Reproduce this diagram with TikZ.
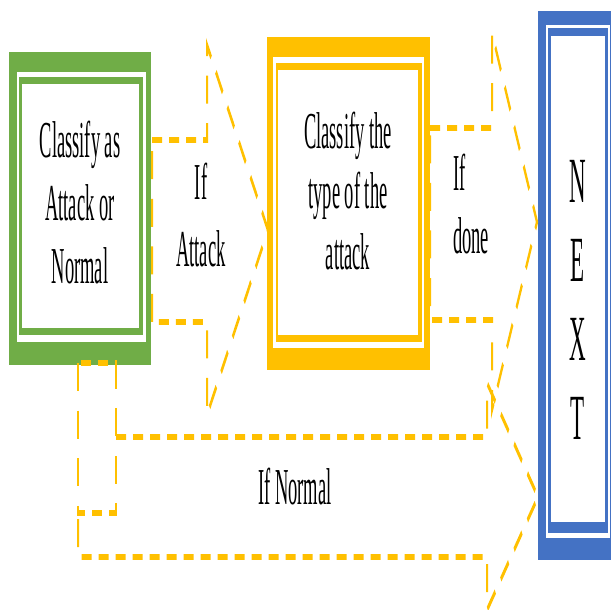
\documentclass[tikz,border=0pt]{standalone}
\usepackage{fontspec}
\setmainfont{Liberation Serif}
\definecolor{gc}{HTML}{70AD47}
\definecolor{oc}{HTML}{FFC000}
\definecolor{bc}{HTML}{4472C4}
\definecolor{arrowc}{HTML}{FFC000}
\tikzset{
  flow/.style={draw=arrowc, line width=2pt, dash pattern=on 10pt off 7pt, line join=miter},
  lbl/.style={font=\fontsize{18.5}{22.5}\selectfont, inner sep=0pt, align=center, text=black},
}
\begin{document}
\begin{tikzpicture}[x=1pt, y=-1pt]
\useasboundingbox (0,0) rectangle (611,610);
\clip (0,0) rectangle (611,610);
% everything is drawn in a vertically stretched canvas
\begin{scope}[transform canvas={yscale=2.8}, y=-0.357143pt]
  % green frame
  \fill[gc] (9,52) rectangle (151,365);
  \fill[white] (17,72) rectangle (146,342);
  \fill[gc] (19,77) rectangle (143,335);
  \fill[white] (22,84) rectangle (139,328);
  % orange frame
  \fill[oc] (267,37) rectangle (430,370);
  \fill[white] (273,57) rectangle (424,348);
  \fill[oc] (276,63) rectangle (422,342);
  \fill[white] (278,70) rectangle (418,335);
  % blue frame
  \fill[bc] (538,11) rectangle (618,560);
  \fill[white] (546,25) rectangle (610,538);
  \fill[bc] (548,28) rectangle (608,533);
  \fill[white] (551,36) rectangle (605,522);

  % texts
  \node[lbl] (classA) at (80,203) {Classify as\\Attack or\\Normal};
  \node[lbl, font=\fontsize{18.5}{21.5}\selectfont] (classT) at (348,191) {Classify the\\type of the\\attack};
  \node[lbl, font=\fontsize{18.5}{24}\selectfont] (ifatt) at (201,215) {If\\Attack};
  \node[lbl, align=left, anchor=west, font=\fontsize{18.5}{22.4}\selectfont] (ifdone) at (453,204) {If\\done};
  \node[lbl] (ifnorm) at (295,487) {If Normal};
  \node[lbl, font=\fontsize{23}{28.3}\selectfont] (next) at (578,300) {N\\E\\X\\T};

  % block arrow: if attack
  \draw[flow] (152,140) -- (207,140) -- (207,45) -- (268,230) -- (207,415) -- (207,322) -- (152,322) -- cycle;
  % block arrow: if done
  \draw[flow] (430,128) -- (492,128) -- (492,33) -- (537,222) -- (492,410) -- (492,320) -- (430,320) -- cycle;
  % bent block arrow: if normal
  \draw[flow] (78,363) rectangle (116,513);
  \draw[flow] (116,437) -- (487,437) -- (487,383) -- (538,497) -- (487,610) -- (487,557) -- (78,557) -- (78,513);
\end{scope}
\end{tikzpicture}
\end{document}
